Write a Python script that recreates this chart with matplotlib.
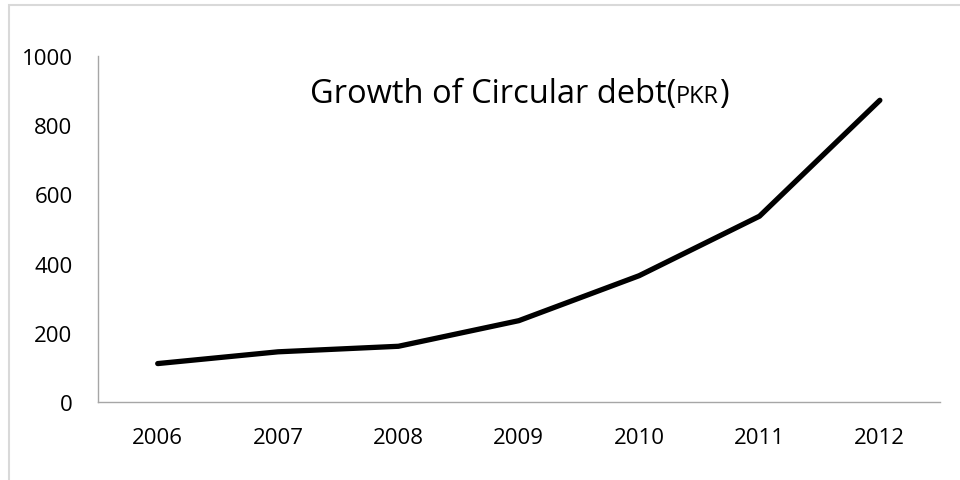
#!/usr/bin/env python3
"""Circular debt growth line chart."""
import matplotlib
matplotlib.use("Agg")
import matplotlib.pyplot as plt
from matplotlib.patches import Rectangle
from matplotlib import rcParams

rcParams["font.family"] = ["Open Sans", "DejaVu Sans"]

years = ["2006", "2007", "2008", "2009", "2010", "2011", "2012"]
debt = [111, 145, 161, 235, 365, 537, 872]

fig = plt.figure(figsize=(9.6, 4.81), dpi=100)
ax = fig.add_axes([0.1016, 0.1622, 0.8776, 0.7193])

# light chart-area border
fig.patches.append(Rectangle((8.5 / 960, -0.05), 1.2, (481 - 5.5) / 481 + 0.05,
                             transform=fig.transFigure, fill=False,
                             edgecolor="#d9d9d9", lw=1.5))

x = range(len(years))
ax.plot(x, debt, color="black", lw=3.8, solid_capstyle="round", solid_joinstyle="round")

ax.set_xlim(-0.5, len(years) - 0.5)
ax.set_ylim(0, 1000)
ax.set_yticks(range(0, 1001, 200))
ax.set_xticks(list(x))
ax.set_xticklabels(years)
ax.tick_params(length=0, labelsize=16, pad=18, colors="black")

for s in ("top", "right"):
    ax.spines[s].set_visible(False)
for s in ("left", "bottom"):
    ax.spines[s].set_color("#a6a6a6")
    ax.spines[s].set_linewidth(1.0)

# title with smaller "PKR"
t1 = ax.text(0.252, 0.866, "Growth of Circular debt(", transform=ax.transAxes,
             fontsize=23.5, va="baseline", ha="left")
t2 = ax.annotate("PKR", xy=(1, 0.866), xycoords=(t1, "axes fraction"),
                 fontsize=17, va="baseline", ha="left")
ax.annotate(")", xy=(1, 0.866), xycoords=(t2, "axes fraction"),
            fontsize=23.5, va="baseline", ha="left")

plt.savefig("out.png", dpi=100)
plt.close()
